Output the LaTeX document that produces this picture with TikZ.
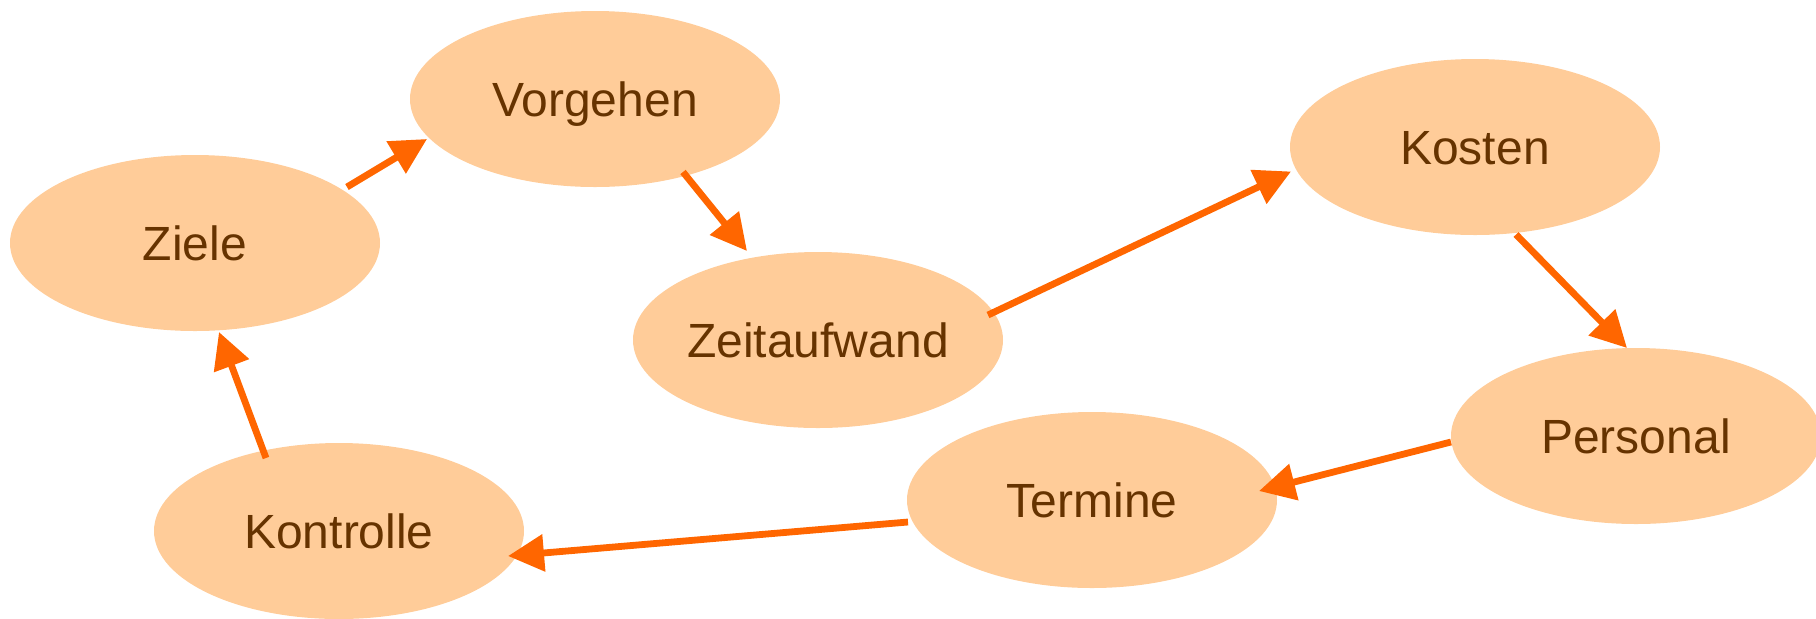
\documentclass[tikz,border=0pt]{standalone}
\usepackage{fontspec}
\setmainfont{Liberation Sans}
\usetikzlibrary{shapes.geometric,arrows.meta,calc}
\definecolor{peach}{HTML}{FFCC99}
\definecolor{arrorange}{HTML}{FF6600}
\definecolor{txtbrown}{HTML}{663300}
\begin{document}
\begin{tikzpicture}[x=0.5pt,y=-0.5pt,
  topic/.style={ellipse, fill=peach, draw=none, minimum width=185pt, minimum height=88pt, inner sep=0pt,
    text=txtbrown, font=\fontsize{24}{28}\selectfont, text height=17.2pt, text depth=0pt},
  flow/.style={draw=arrorange, line width=3.4pt, -{Triangle[length=18pt,width=18pt]}}]
\useasboundingbox (0,0) rectangle (1816,618);
\node[topic] (ziele) at (195,243) {Ziele};
\node[topic] (vorgehen) at (595,99) {Vorgehen};
\node[topic] (zeit) at (818,340) {Zeitaufwand};
\node[topic] (kosten) at (1475,147) {Kosten};
\node[topic] (personal) at (1636,436) {Personal};
\node[topic] (termine) at (1092,500) {Termine};
\node[topic] (kontrolle) at (339,531) {Kontrolle};
\draw[flow] ($(ziele.center)+(152,-56)$) -- ($(vorgehen.center)+(-168,40)$);
\draw[flow] ($(vorgehen.center)+(88,73)$) -- ($(zeit.center)+(-71,-89)$);
\draw[flow] ($(zeit.center)+(170,-25)$) -- ($(kosten.center)+(-184,24.5)$);
\draw[flow] ($(kosten.center)+(41,87.5)$) -- ($(personal.center)+(-9,-88)$);
\draw[flow] ($(personal.center)+(-185,6)$) -- ($(termine.center)+(167,-9)$);
\draw[flow] ($(termine.center)+(-184,22)$) -- ($(kontrolle.center)+(169,25)$);
\draw[flow] ($(kontrolle.center)+(-73,-73)$) -- ($(ziele.center)+(24,89)$);
\end{tikzpicture}
\end{document}
